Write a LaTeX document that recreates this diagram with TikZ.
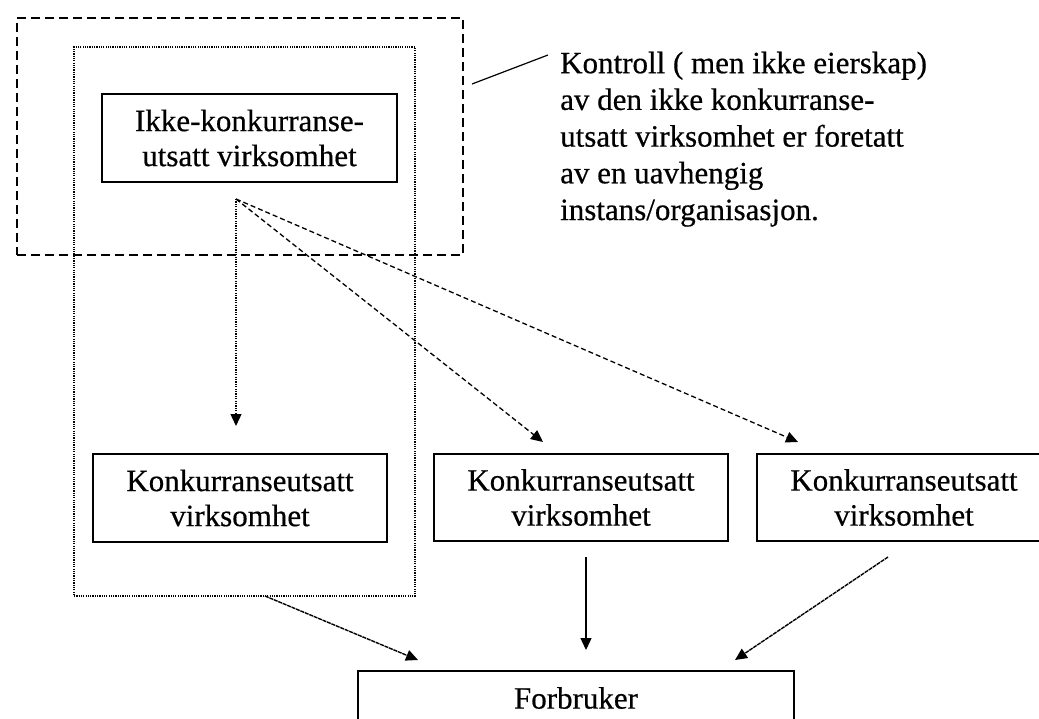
\documentclass[tikz,border=0pt]{standalone}
\usepackage{fontspec}
\setmainfont[FakeBold=0.5]{Liberation Serif}
\usetikzlibrary{arrows.meta}

\tikzset{
  boxtext/.style={font=\fontsize{31}{35}\selectfont, align=center},
  solidbox/.style={draw, line width=1.7pt, inner sep=0pt, boxtext},
  ctrlframe/.style={draw, line width=1.5pt, dash pattern=on 9pt off 5pt},
  groupframe/.style={draw, line width=1.3pt, dash pattern=on 1.2pt off 1.1pt},
  tip/.style={-{Triangle[length=12pt,width=11pt]}},
  dotline/.style={tip, line width=1.3pt, dash pattern=on 1.3pt off 1.1pt},
  dashline/.style={tip, line width=1.3pt, dash pattern=on 5pt off 3pt},
  fineline/.style={tip, line width=1.4pt, dash pattern=on 4pt off 0.8pt},
  plainline/.style={tip, line width=1.4pt},
  note/.style={font=\fontsize{31}{36.7}\selectfont, align=left, inner sep=0pt, anchor=north west}
}

\begin{document}
\begin{tikzpicture}[x=1pt, y=-1pt]
  \useasboundingbox[fill=white] (0,0) rectangle (1039,719);
  \clip (0,0) rectangle (1039,719);

  % control frame and the group frame around the regulated part
  \node[ctrlframe, minimum width=446pt, minimum height=237pt] (ctrl) at (240,136.5) {};
  \node[groupframe, minimum width=341pt, minimum height=549pt] (grp) at (244.5,321.5) {};

  % boxes
  \node[solidbox, minimum width=295pt, minimum height=88pt] (ikke) at (249.5,138)
    {Ikke-konkurranse-\\utsatt virksomhet};
  \node[solidbox, minimum width=294pt, minimum height=88pt] (k1) at (240,498)
    {Konkurranseutsatt\\virksomhet};
  \node[solidbox, minimum width=294pt, minimum height=87pt] (k2) at (581,497.5)
    {Konkurranseutsatt\\virksomhet};
  \node[solidbox, minimum width=294pt, minimum height=87pt] (k3) at (904,497.5)
    {Konkurranseutsatt\\virksomhet};
  \node[solidbox, minimum width=436pt, minimum height=54pt] (forb) at (576,698)
    {Forbruker};

  % explanatory note with its pointer
  \node[note] (txt) at (560,51.5)
    {Kontroll ( men ikke eierskap)\\av den ikke konkurranse-\\utsatt virksomhet er foretatt\\av en uavhengig\\instans/organisasjon.};
  \coordinate (pa) at (472,84);
  \coordinate (pb) at (548,55);
  \draw[line width=1.2pt] (pa) -- (pb);

  % connector end points
  \coordinate (src) at (236,199);
  \coordinate (t1) at (236,426);
  \coordinate (t2) at (543,442);
  \coordinate (t3) at (798,442);
  \coordinate (s1) at (265,596);
  \coordinate (e1) at (418,660);
  \coordinate (s2) at (586,557);
  \coordinate (e2) at (586,650);
  \coordinate (s3) at (888,557);
  \coordinate (e3) at (735,660);

  \draw[dotline] (src) -- (t1);
  \draw[dashline] (src) -- (t2);
  \draw[dashline] (src) -- (t3);
  \draw[fineline] (s1) -- (e1);
  \draw[plainline] (s2) -- (e2);
  \draw[fineline] (s3) -- (e3);
\end{tikzpicture}
\end{document}
